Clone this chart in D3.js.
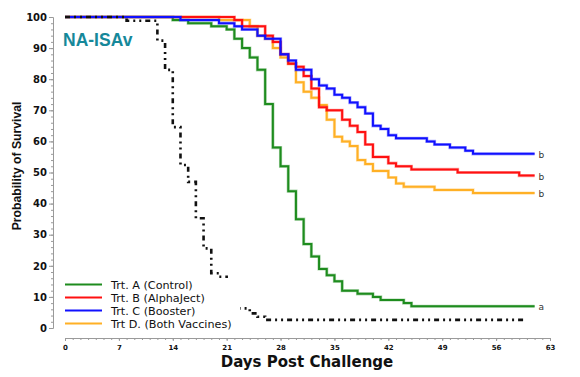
<!DOCTYPE html>
<meta charset="utf-8">
<script src="https://d3js.org/d3.v7.min.js"></script>
<style>
  body { margin: 0; background: #fff; }
  .axis path, .axis line { stroke: #9a9a9a; }
  .ylab text { font: bold 10px "DejaVu Sans", sans-serif; fill: #111; }
  .xlab text { font: bold 7px "DejaVu Sans", sans-serif; fill: #111; }
</style>
<body>
<div id="chart"></div>
<script>
// survival curves, days where the step happens and survival (%) after it
var ctrlDays  = [0, 14, 16, 19, 21, 22, 23, 24, 25, 26, 27, 28, 29, 30, 31, 32, 33, 34, 35, 36, 38, 40, 41, 44, 45, 61];
var ctrlSurv  = [100, 99, 98, 97, 96, 93, 90, 87, 83, 72, 58, 52, 44, 35, 27, 23, 19, 17, 15, 12, 11, 10, 9, 8, 7, 7];

var alphaDays = [0, 22, 23, 26, 27, 28, 29, 30, 31, 32, 33, 34, 36, 37, 38, 39, 40, 42, 43, 45, 51, 59, 61];
var alphaSurv = [100, 99, 97, 94, 92, 88, 85, 84, 81, 77, 71, 70, 67, 65, 63, 59, 55, 53, 52, 51, 50, 49, 49];

var boostDays = [0, 15, 20, 22, 23, 25, 26, 28, 29, 30, 32, 33, 34, 35, 36, 37, 38, 39, 40, 41, 42, 43, 47, 48, 50, 52, 53, 61];
var boostSurv = [100, 99, 98, 97, 96, 94, 93, 88, 86, 83, 80, 78, 77, 75, 74, 72.5, 71, 69, 65, 64, 62, 61, 60, 59, 58, 57, 56, 56];

var bothDays  = [0, 20, 24, 25, 26, 27, 28, 29, 30, 31, 32, 33, 34, 35, 36, 37, 38, 39, 40, 42, 43, 44, 48, 53, 61];
var bothSurv  = [100, 99, 97, 94, 93, 90, 87, 85, 79, 76, 74, 71.7, 67, 61.5, 60, 58.5, 54, 52.7, 50.5, 48.4, 46.5, 45.4, 44.4, 43.4, 43.4];

// unlabelled dash-dot reference curve
var refDays   = [0, 8, 12, 13, 14, 15, 16, 17, 18, 19, 20, 21, 24, 25, 26, 60];
var refSurv   = [100, 98.8, 92.4, 83, 64.6, 52.4, 47, 35.3, 25.6, 17.6, 16.5, 6.3, 4.7, 3.6, 2.6, 2.6];

var seriesNames = ["Trt. A (Control)", "Trt. B (AlphaJect)", "Trt. C (Booster)", "Trt D. (Both Vaccines)"];
var sigLetters  = ["a", "b", "b", "b"];
var xTicks = [0, 7, 14, 21, 28, 35, 42, 49, 56, 63];
var yTicks = [0, 10, 20, 30, 40, 50, 60, 70, 80, 90, 100];

var colors = ["#1e8c1e", "#ff1010", "#1010ff", "#ffb025"];

var width = 580, height = 377;

var svg = d3.select("#chart")
  .append("svg")
    .attr("width", width)
    .attr("height", height);

var x = d3.scaleLinear().domain([0, 63]).range([65, 550]);
var y = d3.scaleLinear().domain([0, 100]).range([328, 17]);

// x axis, minor ticks every day
svg.append("g")
  .attr("class", "axis")
  .attr("transform", "translate(0,338)")
  .call(d3.axisBottom(x).tickValues(d3.range(0, 64)).tickSize(2).tickFormat(""));
svg.append("g")
  .attr("class", "axis xlab")
  .attr("transform", "translate(0,338)")
  .call(d3.axisBottom(x).tickValues(xTicks).tickSize(3).tickSizeOuter(0).tickPadding(4));

// y axis, minor ticks every 2
svg.append("g")
  .attr("class", "axis")
  .attr("transform", "translate(53,0)")
  .call(d3.axisLeft(y).tickValues(d3.range(0, 101, 2)).tickSize(2).tickSizeOuter(0).tickFormat(""));
svg.append("g")
  .attr("class", "axis ylab")
  .attr("transform", "translate(53,0)")
  .call(d3.axisLeft(y).tickValues(yTicks).tickSize(4).tickSizeOuter(0).tickPadding(2));

var line = d3.line()
  .curve(d3.curveStepAfter)
  .x(function(d) { return x(d[0]); })
  .y(function(d) { return y(d[1]); });

var curves = [
  d3.zip(ctrlDays, ctrlSurv),
  d3.zip(alphaDays, alphaSurv),
  d3.zip(boostDays, boostSurv),
  d3.zip(bothDays, bothSurv)
];
var order = [0, 3, 1, 2];

order.forEach(function(i) {
  svg.append("path")
    .datum(curves[i])
    .attr("fill", "none")
    .attr("stroke", colors[i])
    .attr("stroke-opacity", 0.35)
    .attr("stroke-width", 3.2)
    .attr("d", line);
  svg.append("path")
    .datum(curves[i])
    .attr("fill", "none")
    .attr("stroke", colors[i])
    .attr("stroke-width", 2)
    .attr("d", line);
});

// dash-dot curve on top of the coloured ones
svg.append("path")
  .datum(d3.zip(refDays, refSurv))
  .attr("fill", "none")
  .attr("stroke", "#111")
  .attr("stroke-width", 2.6)
  .attr("stroke-dasharray", "5,4,2,4,2,4")
  .attr("d", line);

// letters at line ends
curves.forEach(function(c, i) {
  var last = c[c.length - 1];
  svg.append("text")
    .attr("x", x(last[0]) + 4)
    .attr("y", y(last[1]) + 4)
    .style("font", "9px 'DejaVu Sans', sans-serif")
    .style("fill", "#333")
    .text(sigLetters[i]);
});

// legend, its white box hides part of the dash-dot curve
svg.append("rect")
  .attr("x", 58).attr("y", 278)
  .attr("width", 182).attr("height", 52)
  .attr("fill", "#fff");

var legend = svg.append("g");
seriesNames.forEach(function(name, i) {
  var ly = 284.5 + i * 13;
  legend.append("line")
    .attr("x1", 65).attr("x2", 102)
    .attr("y1", ly).attr("y2", ly)
    .attr("stroke", colors[i])
    .attr("stroke-width", 2);
  legend.append("text")
    .attr("x", 111)
    .attr("y", ly + 4)
    .style("font", "11.2px 'DejaVu Sans', sans-serif")
    .style("fill", "#111")
    .text(name);
});

// titles
svg.append("text")
  .attr("x", 63).attr("y", 45.5)
  .style("font", "bold 17.5px 'Liberation Sans', Arial, sans-serif")
  .style("fill", "#16889a")
  .text("NA-ISAv");

svg.append("text")
  .attr("transform", "translate(21,166) rotate(-90)")
  .attr("text-anchor", "middle")
  .style("font", "bold 12.2px 'Liberation Sans', Arial, sans-serif")
  .style("fill", "#111")
  .text("Probability of Survival");

svg.append("text")
  .attr("x", 307).attr("y", 367)
  .attr("text-anchor", "middle")
  .style("font", "bold 15px 'DejaVu Sans', sans-serif")
  .style("fill", "#111")
  .text("Days Post Challenge");
</script>
</body>
